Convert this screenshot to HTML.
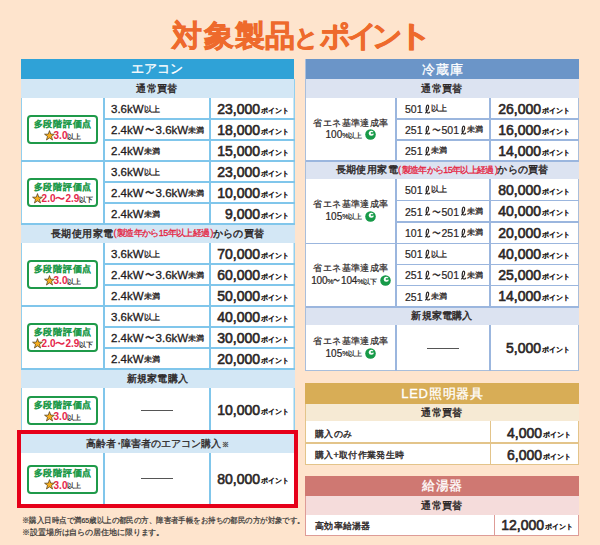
<!DOCTYPE html><html lang="ja"><head><meta charset="utf-8"><style>
html,body{margin:0;padding:0}
body{width:600px;height:545px;overflow:hidden;position:relative;background:#FEE4CD;font-family:"Liberation Sans",sans-serif}
.a{position:absolute}
.t{white-space:nowrap;line-height:1}
.c{display:flex;align-items:center;justify-content:center;white-space:nowrap;line-height:1}
.num{display:flex;align-items:center;justify-content:flex-end;font-size:14px;color:#2B2626;-webkit-text-stroke:0.6px #2B2626;white-space:nowrap;line-height:1}
.pt{font-size:6.6px;margin-top:5px;margin-left:1px;font-weight:normal;-webkit-text-stroke:0.5px #2B2626}
.sm{font-size:7px;color:#222;-webkit-text-stroke:0.2px #222}
.sm2{font-size:8px;-webkit-text-stroke:0.3px currentColor}
.rd{color:#E5264A;font-weight:bold}
.rd2{color:#E5243F;font-size:9px;letter-spacing:-0.65px;-webkit-text-stroke:0.3px #E5243F}
.pr{letter-spacing:0.6px}
.tl{display:inline-block;transform:scaleX(0.8)}
.ell{display:inline-block;margin-left:1px;position:relative;top:-0.5px}
.star{display:block;margin-right:-1px;position:relative;top:-1px;left:0.5px}
.gb{border:2px solid #1F9A4A;border-radius:4px;background:#fff}
.eco{display:inline-block;margin-left:3px;position:relative;top:-0.5px}
</style></head><body>
<div class="a t" style="left:172px;top:21px;font-size:30px;line-height:30px;font-weight:bold;color:#EE6A2C;-webkit-text-stroke:0.7px #EE6A2C">対</div>
<div class="a t" style="left:203.5px;top:21px;font-size:30px;line-height:30px;font-weight:bold;color:#EE6A2C;-webkit-text-stroke:0.7px #EE6A2C">象</div>
<div class="a t" style="left:235px;top:21px;font-size:30px;line-height:30px;font-weight:bold;color:#EE6A2C;-webkit-text-stroke:0.7px #EE6A2C">製</div>
<div class="a t" style="left:265px;top:21px;font-size:30px;line-height:30px;font-weight:bold;color:#EE6A2C;-webkit-text-stroke:0.7px #EE6A2C">品</div>
<div class="a t" style="left:294px;top:26px;font-size:24px;line-height:24px;font-weight:bold;color:#EE6A2C;-webkit-text-stroke:0.8px #EE6A2C">と</div>
<div class="a t" style="left:320px;top:21px;font-size:30px;line-height:30px;font-weight:bold;color:#EE6A2C;-webkit-text-stroke:0.7px #EE6A2C">ポ</div>
<div class="a t" style="left:347px;top:21px;font-size:30px;line-height:30px;font-weight:bold;color:#EE6A2C;-webkit-text-stroke:0.7px #EE6A2C">イ</div>
<div class="a t" style="left:372px;top:21px;font-size:30px;line-height:30px;font-weight:bold;color:#EE6A2C;-webkit-text-stroke:0.7px #EE6A2C">ン</div>
<div class="a t" style="left:397px;top:21px;font-size:30px;line-height:30px;font-weight:bold;color:#EE6A2C;-webkit-text-stroke:0.7px #EE6A2C;transform-origin:0 0;transform:scaleX(1.18)">ト</div>
<div class="a" style="left:21px;top:79px;width:274px;height:351px;background:#fff;box-shadow:inset 1px 0 0 #92CFEE, inset -1.5px 0 0 #92CFEE"></div>
<div class="a" style="left:21px;top:59px;width:273px;height:20px;background:#2FA2D7;"></div>
<div class="a c" style="left:20px;top:58px;width:274px;height:20px;font-size:13px;color:#fff;-webkit-text-stroke:0.3px #fff">エアコン</div>
<div class="a" style="left:21px;top:79px;width:273px;height:19px;background:#D3E7F5;"></div>
<div class="a c" style="left:20.5px;top:79px;width:273px;height:19px;font-size:10px;letter-spacing:0.4px;color:#2B2626;-webkit-text-stroke:0.4px #2B2626">通常買替</div>
<div class="a" style="left:21px;top:224px;width:274px;height:19px;background:#D3E7F5;"></div>
<div class="a c" style="left:20.5px;top:224px;width:274px;height:19px;font-size:10px;color:#2B2626;-webkit-text-stroke:0.4px #2B2626"><span style="letter-spacing:0.4px">長期使用家電</span><span class="rd2"><span class="pr">(</span>製造年から15年以上経<span class="pr">過</span>)</span><span style="letter-spacing:0.2px">からの買替</span></div>
<div class="a" style="left:21px;top:369px;width:274px;height:19px;background:#D3E7F5;"></div>
<div class="a c" style="left:20.5px;top:369px;width:274px;height:19px;font-size:10px;letter-spacing:0.4px;color:#2B2626;-webkit-text-stroke:0.4px #2B2626;letter-spacing:0.2px">新規家電購入</div>
<div class="a" style="left:103.0px;top:98px;width:2px;height:63px;background:#80C6EB;"></div>
<div class="a" style="left:209.25px;top:98px;width:1.5px;height:63px;background:#80C6EB;"></div>
<div class="a" style="left:104px;top:118.0px;width:191px;height:2px;background:#80C6EB;"></div>
<div class="a" style="left:104px;top:139.0px;width:191px;height:2px;background:#80C6EB;"></div>
<div class="a" style="left:21px;top:160.0px;width:274px;height:2px;background:#80C6EB;"></div>
<div class="a gb" style="left:27.0px;top:115.0px;width:67px;height:25px"></div>
<div class="a c" style="left:27.35px;top:119.0px;width:71px;height:10px;font-size:9px;letter-spacing:0.7px;color:#1F9A4A;-webkit-text-stroke:0.6px #1F9A4A">多段階評価点</div>
<div class="a c" style="left:27.0px;top:130.5px;width:71px;height:11px;font-size:10px"><svg class="star" width="11" height="11" viewBox="0 0 11 11"><polygon points="5.50,0.60 6.73,4.10 10.45,4.19 7.50,6.45 8.56,10.01 5.50,7.90 2.44,10.01 3.50,6.45 0.55,4.19 4.27,4.10" fill="#F7AE1E" stroke="#4B3B1E" stroke-width="0.7" stroke-linejoin="round"/></svg><span class="rd">3.0</span><span class="sm">以上</span></div>
<div class="a t" style="left:111px;top:99px;height:21px;display:flex;align-items:center;font-size:11.5px;color:#1E1A1A;-webkit-text-stroke:0.3px #1E1A1A">3.6kW<span class="sm2">以上</span></div>
<div class="a num" style="left:210px;top:98px;width:79px;height:21px">23,000<span class="pt">ポイント</span></div>
<div class="a t" style="left:111px;top:120px;height:21px;display:flex;align-items:center;font-size:11.5px;color:#1E1A1A;-webkit-text-stroke:0.3px #1E1A1A">2.4kW<span class="tl">〜</span>3.6kW<span class="sm2">未満</span></div>
<div class="a num" style="left:210px;top:119px;width:79px;height:21px">18,000<span class="pt">ポイント</span></div>
<div class="a t" style="left:111px;top:141px;height:21px;display:flex;align-items:center;font-size:11.5px;color:#1E1A1A;-webkit-text-stroke:0.3px #1E1A1A">2.4kW<span class="sm2">未満</span></div>
<div class="a num" style="left:210px;top:140px;width:79px;height:21px">15,000<span class="pt">ポイント</span></div>
<div class="a" style="left:103.0px;top:161px;width:2px;height:63px;background:#80C6EB;"></div>
<div class="a" style="left:209.25px;top:161px;width:1.5px;height:63px;background:#80C6EB;"></div>
<div class="a" style="left:104px;top:181.0px;width:191px;height:2px;background:#80C6EB;"></div>
<div class="a" style="left:104px;top:202.0px;width:191px;height:2px;background:#80C6EB;"></div>
<div class="a" style="left:21px;top:223.0px;width:274px;height:2px;background:#80C6EB;"></div>
<div class="a gb" style="left:27.0px;top:178.0px;width:67px;height:25px"></div>
<div class="a c" style="left:27.35px;top:182.0px;width:71px;height:10px;font-size:9px;letter-spacing:0.7px;color:#1F9A4A;-webkit-text-stroke:0.6px #1F9A4A">多段階評価点</div>
<div class="a c" style="left:27.0px;top:193.5px;width:71px;height:11px;font-size:10px"><svg class="star" width="11" height="11" viewBox="0 0 11 11"><polygon points="5.50,0.60 6.73,4.10 10.45,4.19 7.50,6.45 8.56,10.01 5.50,7.90 2.44,10.01 3.50,6.45 0.55,4.19 4.27,4.10" fill="#F7AE1E" stroke="#4B3B1E" stroke-width="0.7" stroke-linejoin="round"/></svg><span class="rd">2.0〜2.9</span><span class="sm">以下</span></div>
<div class="a t" style="left:111px;top:162px;height:21px;display:flex;align-items:center;font-size:11.5px;color:#1E1A1A;-webkit-text-stroke:0.3px #1E1A1A">3.6kW<span class="sm2">以上</span></div>
<div class="a num" style="left:210px;top:161px;width:79px;height:21px">23,000<span class="pt">ポイント</span></div>
<div class="a t" style="left:111px;top:183px;height:21px;display:flex;align-items:center;font-size:11.5px;color:#1E1A1A;-webkit-text-stroke:0.3px #1E1A1A">2.4kW<span class="tl">〜</span>3.6kW<span class="sm2">未満</span></div>
<div class="a num" style="left:210px;top:182px;width:79px;height:21px">10,000<span class="pt">ポイント</span></div>
<div class="a t" style="left:111px;top:204px;height:21px;display:flex;align-items:center;font-size:11.5px;color:#1E1A1A;-webkit-text-stroke:0.3px #1E1A1A">2.4kW<span class="sm2">未満</span></div>
<div class="a num" style="left:210px;top:203px;width:79px;height:21px">9,000<span class="pt">ポイント</span></div>
<div class="a" style="left:103.0px;top:243px;width:2px;height:63px;background:#80C6EB;"></div>
<div class="a" style="left:209.25px;top:243px;width:1.5px;height:63px;background:#80C6EB;"></div>
<div class="a" style="left:104px;top:263.0px;width:191px;height:2px;background:#80C6EB;"></div>
<div class="a" style="left:104px;top:284.0px;width:191px;height:2px;background:#80C6EB;"></div>
<div class="a" style="left:21px;top:305.0px;width:274px;height:2px;background:#80C6EB;"></div>
<div class="a gb" style="left:27.0px;top:260.0px;width:67px;height:25px"></div>
<div class="a c" style="left:27.35px;top:264.0px;width:71px;height:10px;font-size:9px;letter-spacing:0.7px;color:#1F9A4A;-webkit-text-stroke:0.6px #1F9A4A">多段階評価点</div>
<div class="a c" style="left:27.0px;top:275.5px;width:71px;height:11px;font-size:10px"><svg class="star" width="11" height="11" viewBox="0 0 11 11"><polygon points="5.50,0.60 6.73,4.10 10.45,4.19 7.50,6.45 8.56,10.01 5.50,7.90 2.44,10.01 3.50,6.45 0.55,4.19 4.27,4.10" fill="#F7AE1E" stroke="#4B3B1E" stroke-width="0.7" stroke-linejoin="round"/></svg><span class="rd">3.0</span><span class="sm">以上</span></div>
<div class="a t" style="left:111px;top:244px;height:21px;display:flex;align-items:center;font-size:11.5px;color:#1E1A1A;-webkit-text-stroke:0.3px #1E1A1A">3.6kW<span class="sm2">以上</span></div>
<div class="a num" style="left:210px;top:243px;width:79px;height:21px">70,000<span class="pt">ポイント</span></div>
<div class="a t" style="left:111px;top:265px;height:21px;display:flex;align-items:center;font-size:11.5px;color:#1E1A1A;-webkit-text-stroke:0.3px #1E1A1A">2.4kW<span class="tl">〜</span>3.6kW<span class="sm2">未満</span></div>
<div class="a num" style="left:210px;top:264px;width:79px;height:21px">60,000<span class="pt">ポイント</span></div>
<div class="a t" style="left:111px;top:286px;height:21px;display:flex;align-items:center;font-size:11.5px;color:#1E1A1A;-webkit-text-stroke:0.3px #1E1A1A">2.4kW<span class="sm2">未満</span></div>
<div class="a num" style="left:210px;top:285px;width:79px;height:21px">50,000<span class="pt">ポイント</span></div>
<div class="a" style="left:103.0px;top:306px;width:2px;height:63px;background:#80C6EB;"></div>
<div class="a" style="left:209.25px;top:306px;width:1.5px;height:63px;background:#80C6EB;"></div>
<div class="a" style="left:104px;top:326.0px;width:191px;height:2px;background:#80C6EB;"></div>
<div class="a" style="left:104px;top:347.0px;width:191px;height:2px;background:#80C6EB;"></div>
<div class="a" style="left:21px;top:368.0px;width:274px;height:2px;background:#80C6EB;"></div>
<div class="a gb" style="left:27.0px;top:323.0px;width:67px;height:25px"></div>
<div class="a c" style="left:27.35px;top:327.0px;width:71px;height:10px;font-size:9px;letter-spacing:0.7px;color:#1F9A4A;-webkit-text-stroke:0.6px #1F9A4A">多段階評価点</div>
<div class="a c" style="left:27.0px;top:338.5px;width:71px;height:11px;font-size:10px"><svg class="star" width="11" height="11" viewBox="0 0 11 11"><polygon points="5.50,0.60 6.73,4.10 10.45,4.19 7.50,6.45 8.56,10.01 5.50,7.90 2.44,10.01 3.50,6.45 0.55,4.19 4.27,4.10" fill="#F7AE1E" stroke="#4B3B1E" stroke-width="0.7" stroke-linejoin="round"/></svg><span class="rd">2.0〜2.9</span><span class="sm">以下</span></div>
<div class="a t" style="left:111px;top:307px;height:21px;display:flex;align-items:center;font-size:11.5px;color:#1E1A1A;-webkit-text-stroke:0.3px #1E1A1A">3.6kW<span class="sm2">以上</span></div>
<div class="a num" style="left:210px;top:306px;width:79px;height:21px">40,000<span class="pt">ポイント</span></div>
<div class="a t" style="left:111px;top:328px;height:21px;display:flex;align-items:center;font-size:11.5px;color:#1E1A1A;-webkit-text-stroke:0.3px #1E1A1A">2.4kW<span class="tl">〜</span>3.6kW<span class="sm2">未満</span></div>
<div class="a num" style="left:210px;top:327px;width:79px;height:21px">30,000<span class="pt">ポイント</span></div>
<div class="a t" style="left:111px;top:349px;height:21px;display:flex;align-items:center;font-size:11.5px;color:#1E1A1A;-webkit-text-stroke:0.3px #1E1A1A">2.4kW<span class="sm2">未満</span></div>
<div class="a num" style="left:210px;top:348px;width:79px;height:21px">20,000<span class="pt">ポイント</span></div>
<div class="a" style="left:103.0px;top:388px;width:2px;height:42px;background:#80C6EB;"></div>
<div class="a" style="left:209.25px;top:388px;width:1.5px;height:42px;background:#80C6EB;"></div>
<div class="a gb" style="left:27.0px;top:396.0px;width:67px;height:25px"></div>
<div class="a c" style="left:27.35px;top:400.0px;width:71px;height:10px;font-size:9px;letter-spacing:0.7px;color:#1F9A4A;-webkit-text-stroke:0.6px #1F9A4A">多段階評価点</div>
<div class="a c" style="left:27.0px;top:411.5px;width:71px;height:11px;font-size:10px"><svg class="star" width="11" height="11" viewBox="0 0 11 11"><polygon points="5.50,0.60 6.73,4.10 10.45,4.19 7.50,6.45 8.56,10.01 5.50,7.90 2.44,10.01 3.50,6.45 0.55,4.19 4.27,4.10" fill="#F7AE1E" stroke="#4B3B1E" stroke-width="0.7" stroke-linejoin="round"/></svg><span class="rd">3.0</span><span class="sm">以上</span></div>
<div class="a" style="left:141px;top:410px;width:32px;height:1.2px;background:#555;"></div>
<div class="a num" style="left:210px;top:388px;width:79px;height:44px">10,000<span class="pt">ポイント</span></div>
<div class="a" style="left:17px;top:430px;width:281px;height:78px;background:#fff;box-sizing:border-box;border:4px solid #E60019"></div>
<div class="a" style="left:21px;top:434px;width:273px;height:18.5px;background:#D3E7F5;"></div>
<div class="a c" style="left:20.5px;top:435px;width:273px;height:18.5px;font-size:10px;color:#2B2626;-webkit-text-stroke:0.3px #2B2626">高齢者<span style="letter-spacing:-3.5px;margin-left:-1.5px">・</span>障害者のエアコン購入<span style="font-size:7px;vertical-align:3px;color:#999;margin-left:1px">※</span></div>
<div class="a" style="left:103.0px;top:452.5px;width:2px;height:51.5px;background:#80C6EB;"></div>
<div class="a" style="left:209.25px;top:452.5px;width:1.5px;height:51.5px;background:#80C6EB;"></div>
<div class="a gb" style="left:27.0px;top:464.5px;width:67px;height:25px"></div>
<div class="a c" style="left:27.35px;top:468.5px;width:71px;height:10px;font-size:9px;letter-spacing:0.7px;color:#1F9A4A;-webkit-text-stroke:0.6px #1F9A4A">多段階評価点</div>
<div class="a c" style="left:27.0px;top:480.0px;width:71px;height:11px;font-size:10px"><svg class="star" width="11" height="11" viewBox="0 0 11 11"><polygon points="5.50,0.60 6.73,4.10 10.45,4.19 7.50,6.45 8.56,10.01 5.50,7.90 2.44,10.01 3.50,6.45 0.55,4.19 4.27,4.10" fill="#F7AE1E" stroke="#4B3B1E" stroke-width="0.7" stroke-linejoin="round"/></svg><span class="rd">3.0</span><span class="sm">以上</span></div>
<div class="a" style="left:141px;top:478.3px;width:32px;height:1.2px;background:#555;"></div>
<div class="a num" style="left:210px;top:452.5px;width:79px;height:52px">80,000<span class="pt">ポイント</span></div>
<div class="a t" style="left:22px;top:516px;font-size:7.5px;line-height:10px;color:#333;-webkit-text-stroke:0.2px #333;white-space:nowrap;transform-origin:0 0;transform:scaleX(0.929)">※購入日時点で満65歳以上の都民の方、障害者手帳をお持ちの都民の方が対象です。</div>
<div class="a t" style="left:22px;top:527.5px;font-size:8px;letter-spacing:-0.1px;line-height:10px;color:#333;-webkit-text-stroke:0.2px #333;white-space:nowrap">※設置場所は自らの居住地に限ります。</div>
<div class="a" style="left:305px;top:59px;width:274px;height:312px;background:#fff;box-shadow:inset 0 0 0 1px #A9BEDB"></div>
<div class="a" style="left:306px;top:59px;width:273px;height:20px;background:#6B95C8;"></div>
<div class="a c" style="left:306px;top:59px;width:273px;height:20px;font-size:13px;color:#fff;-webkit-text-stroke:0.3px #fff;letter-spacing:1px">冷蔵庫</div>
<div class="a" style="left:306px;top:79px;width:273px;height:19px;background:#DCE3F1;"></div>
<div class="a c" style="left:305.5px;top:79px;width:273px;height:19px;font-size:10px;letter-spacing:0.4px;color:#2B2626;-webkit-text-stroke:0.4px #2B2626">通常買替</div>
<div class="a" style="left:306px;top:161px;width:273px;height:18px;background:#DCE3F1;"></div>
<div class="a c" style="left:305.5px;top:161px;width:273px;height:18px;font-size:10px;color:#2B2626;-webkit-text-stroke:0.4px #2B2626"><span style="letter-spacing:0.4px">長期使用家電</span><span class="rd2"><span class="pr">(</span>製造年から15年以上経<span class="pr">過</span>)</span><span style="letter-spacing:0.2px">からの買替</span></div>
<div class="a" style="left:306px;top:307px;width:273px;height:18px;background:#DCE3F1;"></div>
<div class="a c" style="left:305.5px;top:307px;width:273px;height:18px;font-size:10px;letter-spacing:0.4px;color:#2B2626;-webkit-text-stroke:0.4px #2B2626;letter-spacing:0.2px">新規家電購入</div>
<div class="a" style="left:395.25px;top:98px;width:1.5px;height:63px;background:#9BB6DE;"></div>
<div class="a" style="left:489.25px;top:98px;width:1.5px;height:63px;background:#9BB6DE;"></div>
<div class="a" style="left:396px;top:118.25px;width:183px;height:1.5px;background:#9BB6DE;"></div>
<div class="a" style="left:396px;top:139.25px;width:183px;height:1.5px;background:#9BB6DE;"></div>
<div class="a" style="left:306px;top:160.25px;width:273px;height:1.5px;background:#9BB6DE;"></div>
<div class="a c" style="left:306px;top:117.5px;width:90px;height:11px;font-size:9px;letter-spacing:0.45px;color:#2B2626;-webkit-text-stroke:0.2px #2B2626">省エネ基準達成率</div>
<div class="a c" style="left:306px;top:129.0px;width:90px;height:12px;font-size:10px;color:#2B2626;-webkit-text-stroke:0.2px #2B2626">100<span class="sm">%以上</span><svg class="eco" width="11" height="11" viewBox="0 0 11 11"><circle cx="5.5" cy="5.5" r="5.3" fill="#179A48"/><circle cx="6.3" cy="4.2" r="2.5" fill="#fff"/><circle cx="6.8" cy="4.1" r="1.15" fill="#2DA85C"/><path d="M7.4,3.4 L9.4,2.6 L9.6,4.6 L7.6,4.7 Z" fill="#179A48"/></svg></div>
<div class="a t" style="left:405px;top:98.5px;height:21px;display:flex;align-items:center;font-size:10.5px;color:#2B2626;-webkit-text-stroke:0.2px #2B2626">501<svg class="ell" width="7" height="10" viewBox="0 0 7 10"><path d="M1.6,8.8 C3,7.4 4.9,4.2 4.6,2.1 C4.4,0.7 3,0.7 2.6,2.2 C2.1,4.2 2.1,7.4 3.1,8.6 C3.7,9.3 4.6,9.1 5.6,8.2" fill="none" stroke="#2B2626" stroke-width="1.15" stroke-linecap="round"/></svg><span class="sm2">以上</span></div>
<div class="a num" style="left:490px;top:98px;width:80px;height:21px">26,000<span class="pt">ポイント</span></div>
<div class="a t" style="left:405px;top:119.5px;height:21px;display:flex;align-items:center;font-size:10.5px;color:#2B2626;-webkit-text-stroke:0.2px #2B2626">251<svg class="ell" width="7" height="10" viewBox="0 0 7 10"><path d="M1.6,8.8 C3,7.4 4.9,4.2 4.6,2.1 C4.4,0.7 3,0.7 2.6,2.2 C2.1,4.2 2.1,7.4 3.1,8.6 C3.7,9.3 4.6,9.1 5.6,8.2" fill="none" stroke="#2B2626" stroke-width="1.15" stroke-linecap="round"/></svg><span class="tl">〜</span>501<svg class="ell" width="7" height="10" viewBox="0 0 7 10"><path d="M1.6,8.8 C3,7.4 4.9,4.2 4.6,2.1 C4.4,0.7 3,0.7 2.6,2.2 C2.1,4.2 2.1,7.4 3.1,8.6 C3.7,9.3 4.6,9.1 5.6,8.2" fill="none" stroke="#2B2626" stroke-width="1.15" stroke-linecap="round"/></svg><span class="sm2">未満</span></div>
<div class="a num" style="left:490px;top:119px;width:80px;height:21px">16,000<span class="pt">ポイント</span></div>
<div class="a t" style="left:405px;top:140.5px;height:21px;display:flex;align-items:center;font-size:10.5px;color:#2B2626;-webkit-text-stroke:0.2px #2B2626">251<svg class="ell" width="7" height="10" viewBox="0 0 7 10"><path d="M1.6,8.8 C3,7.4 4.9,4.2 4.6,2.1 C4.4,0.7 3,0.7 2.6,2.2 C2.1,4.2 2.1,7.4 3.1,8.6 C3.7,9.3 4.6,9.1 5.6,8.2" fill="none" stroke="#2B2626" stroke-width="1.15" stroke-linecap="round"/></svg><span class="sm2">未満</span></div>
<div class="a num" style="left:490px;top:140px;width:80px;height:21px">14,000<span class="pt">ポイント</span></div>
<div class="a" style="left:395.25px;top:179px;width:1.5px;height:64.5px;background:#9BB6DE;"></div>
<div class="a" style="left:489.25px;top:179px;width:1.5px;height:64.5px;background:#9BB6DE;"></div>
<div class="a" style="left:396px;top:199.75px;width:183px;height:1.5px;background:#9BB6DE;"></div>
<div class="a" style="left:396px;top:221.25px;width:183px;height:1.5px;background:#9BB6DE;"></div>
<div class="a" style="left:306px;top:242.75px;width:273px;height:1.5px;background:#9BB6DE;"></div>
<div class="a c" style="left:306px;top:199.25px;width:90px;height:11px;font-size:9px;letter-spacing:0.45px;color:#2B2626;-webkit-text-stroke:0.2px #2B2626">省エネ基準達成率</div>
<div class="a c" style="left:306px;top:210.75px;width:90px;height:12px;font-size:10px;color:#2B2626;-webkit-text-stroke:0.2px #2B2626">105<span class="sm">%以上</span><svg class="eco" width="11" height="11" viewBox="0 0 11 11"><circle cx="5.5" cy="5.5" r="5.3" fill="#179A48"/><circle cx="6.3" cy="4.2" r="2.5" fill="#fff"/><circle cx="6.8" cy="4.1" r="1.15" fill="#2DA85C"/><path d="M7.4,3.4 L9.4,2.6 L9.6,4.6 L7.6,4.7 Z" fill="#179A48"/></svg></div>
<div class="a t" style="left:405px;top:179.5px;height:21.5px;display:flex;align-items:center;font-size:10.5px;color:#2B2626;-webkit-text-stroke:0.2px #2B2626">501<svg class="ell" width="7" height="10" viewBox="0 0 7 10"><path d="M1.6,8.8 C3,7.4 4.9,4.2 4.6,2.1 C4.4,0.7 3,0.7 2.6,2.2 C2.1,4.2 2.1,7.4 3.1,8.6 C3.7,9.3 4.6,9.1 5.6,8.2" fill="none" stroke="#2B2626" stroke-width="1.15" stroke-linecap="round"/></svg><span class="sm2">以上</span></div>
<div class="a num" style="left:490px;top:179px;width:80px;height:21.5px">80,000<span class="pt">ポイント</span></div>
<div class="a t" style="left:405px;top:201.0px;height:21.5px;display:flex;align-items:center;font-size:10.5px;color:#2B2626;-webkit-text-stroke:0.2px #2B2626">251<svg class="ell" width="7" height="10" viewBox="0 0 7 10"><path d="M1.6,8.8 C3,7.4 4.9,4.2 4.6,2.1 C4.4,0.7 3,0.7 2.6,2.2 C2.1,4.2 2.1,7.4 3.1,8.6 C3.7,9.3 4.6,9.1 5.6,8.2" fill="none" stroke="#2B2626" stroke-width="1.15" stroke-linecap="round"/></svg><span class="tl">〜</span>501<svg class="ell" width="7" height="10" viewBox="0 0 7 10"><path d="M1.6,8.8 C3,7.4 4.9,4.2 4.6,2.1 C4.4,0.7 3,0.7 2.6,2.2 C2.1,4.2 2.1,7.4 3.1,8.6 C3.7,9.3 4.6,9.1 5.6,8.2" fill="none" stroke="#2B2626" stroke-width="1.15" stroke-linecap="round"/></svg><span class="sm2">未満</span></div>
<div class="a num" style="left:490px;top:200.5px;width:80px;height:21.5px">40,000<span class="pt">ポイント</span></div>
<div class="a t" style="left:405px;top:222.5px;height:21.5px;display:flex;align-items:center;font-size:10.5px;color:#2B2626;-webkit-text-stroke:0.2px #2B2626">101<svg class="ell" width="7" height="10" viewBox="0 0 7 10"><path d="M1.6,8.8 C3,7.4 4.9,4.2 4.6,2.1 C4.4,0.7 3,0.7 2.6,2.2 C2.1,4.2 2.1,7.4 3.1,8.6 C3.7,9.3 4.6,9.1 5.6,8.2" fill="none" stroke="#2B2626" stroke-width="1.15" stroke-linecap="round"/></svg><span class="tl">〜</span>251<svg class="ell" width="7" height="10" viewBox="0 0 7 10"><path d="M1.6,8.8 C3,7.4 4.9,4.2 4.6,2.1 C4.4,0.7 3,0.7 2.6,2.2 C2.1,4.2 2.1,7.4 3.1,8.6 C3.7,9.3 4.6,9.1 5.6,8.2" fill="none" stroke="#2B2626" stroke-width="1.15" stroke-linecap="round"/></svg><span class="sm2">未満</span></div>
<div class="a num" style="left:490px;top:222px;width:80px;height:21.5px">20,000<span class="pt">ポイント</span></div>
<div class="a" style="left:395.25px;top:243.5px;width:1.5px;height:63.5px;background:#9BB6DE;"></div>
<div class="a" style="left:489.25px;top:243.5px;width:1.5px;height:63.5px;background:#9BB6DE;"></div>
<div class="a" style="left:396px;top:263.75px;width:183px;height:1.5px;background:#9BB6DE;"></div>
<div class="a" style="left:396px;top:284.75px;width:183px;height:1.5px;background:#9BB6DE;"></div>
<div class="a" style="left:306px;top:306.25px;width:273px;height:1.5px;background:#9BB6DE;"></div>
<div class="a c" style="left:306px;top:263.25px;width:90px;height:11px;font-size:9px;letter-spacing:0.45px;color:#2B2626;-webkit-text-stroke:0.2px #2B2626">省エネ基準達成率</div>
<div class="a c" style="left:306px;top:274.75px;width:90px;height:12px;font-size:10px;color:#2B2626;-webkit-text-stroke:0.2px #2B2626"><span style="letter-spacing:-0.2px">100<span class="sm">%</span><span class="tl" style="transform:scaleX(0.7);margin:0 -1px">〜</span>104<span class="sm">%以下</span></span><svg class="eco" width="11" height="11" viewBox="0 0 11 11"><circle cx="5.5" cy="5.5" r="5.3" fill="#179A48"/><circle cx="6.3" cy="4.2" r="2.5" fill="#fff"/><circle cx="6.8" cy="4.1" r="1.15" fill="#2DA85C"/><path d="M7.4,3.4 L9.4,2.6 L9.6,4.6 L7.6,4.7 Z" fill="#179A48"/></svg></div>
<div class="a t" style="left:405px;top:244.0px;height:21.0px;display:flex;align-items:center;font-size:10.5px;color:#2B2626;-webkit-text-stroke:0.2px #2B2626">501<svg class="ell" width="7" height="10" viewBox="0 0 7 10"><path d="M1.6,8.8 C3,7.4 4.9,4.2 4.6,2.1 C4.4,0.7 3,0.7 2.6,2.2 C2.1,4.2 2.1,7.4 3.1,8.6 C3.7,9.3 4.6,9.1 5.6,8.2" fill="none" stroke="#2B2626" stroke-width="1.15" stroke-linecap="round"/></svg><span class="sm2">以上</span></div>
<div class="a num" style="left:490px;top:243.5px;width:80px;height:21.0px">40,000<span class="pt">ポイント</span></div>
<div class="a t" style="left:405px;top:265.0px;height:21.0px;display:flex;align-items:center;font-size:10.5px;color:#2B2626;-webkit-text-stroke:0.2px #2B2626">251<svg class="ell" width="7" height="10" viewBox="0 0 7 10"><path d="M1.6,8.8 C3,7.4 4.9,4.2 4.6,2.1 C4.4,0.7 3,0.7 2.6,2.2 C2.1,4.2 2.1,7.4 3.1,8.6 C3.7,9.3 4.6,9.1 5.6,8.2" fill="none" stroke="#2B2626" stroke-width="1.15" stroke-linecap="round"/></svg><span class="tl">〜</span>501<svg class="ell" width="7" height="10" viewBox="0 0 7 10"><path d="M1.6,8.8 C3,7.4 4.9,4.2 4.6,2.1 C4.4,0.7 3,0.7 2.6,2.2 C2.1,4.2 2.1,7.4 3.1,8.6 C3.7,9.3 4.6,9.1 5.6,8.2" fill="none" stroke="#2B2626" stroke-width="1.15" stroke-linecap="round"/></svg><span class="sm2">未満</span></div>
<div class="a num" style="left:490px;top:264.5px;width:80px;height:21.0px">25,000<span class="pt">ポイント</span></div>
<div class="a t" style="left:405px;top:286.0px;height:21.5px;display:flex;align-items:center;font-size:10.5px;color:#2B2626;-webkit-text-stroke:0.2px #2B2626">251<svg class="ell" width="7" height="10" viewBox="0 0 7 10"><path d="M1.6,8.8 C3,7.4 4.9,4.2 4.6,2.1 C4.4,0.7 3,0.7 2.6,2.2 C2.1,4.2 2.1,7.4 3.1,8.6 C3.7,9.3 4.6,9.1 5.6,8.2" fill="none" stroke="#2B2626" stroke-width="1.15" stroke-linecap="round"/></svg><span class="sm2">未満</span></div>
<div class="a num" style="left:490px;top:285.5px;width:80px;height:21.5px">14,000<span class="pt">ポイント</span></div>
<div class="a" style="left:395.25px;top:325px;width:1.5px;height:46px;background:#9BB6DE;"></div>
<div class="a" style="left:489.25px;top:325px;width:1.5px;height:46px;background:#9BB6DE;"></div>
<div class="a c" style="left:306px;top:336px;width:90px;height:11px;font-size:9px;letter-spacing:0.45px;color:#2B2626;-webkit-text-stroke:0.2px #2B2626">省エネ基準達成率</div>
<div class="a c" style="left:306px;top:347.5px;width:90px;height:12px;font-size:10px;color:#2B2626;-webkit-text-stroke:0.2px #2B2626">105<span class="sm">%以上</span><svg class="eco" width="11" height="11" viewBox="0 0 11 11"><circle cx="5.5" cy="5.5" r="5.3" fill="#179A48"/><circle cx="6.3" cy="4.2" r="2.5" fill="#fff"/><circle cx="6.8" cy="4.1" r="1.15" fill="#2DA85C"/><path d="M7.4,3.4 L9.4,2.6 L9.6,4.6 L7.6,4.7 Z" fill="#179A48"/></svg></div>
<div class="a" style="left:427px;top:348px;width:32px;height:1.2px;background:#555;"></div>
<div class="a num" style="left:490px;top:325px;width:80px;height:46px">5,000<span class="pt">ポイント</span></div>
<div class="a" style="left:305px;top:383px;width:274px;height:82px;background:#fff;box-shadow:inset 0 0 0 1px #E3C48A"></div>
<div class="a" style="left:305px;top:383px;width:274px;height:21px;background:#D8AD56;"></div>
<div class="a c" style="left:306px;top:383px;width:273px;height:21px;font-size:13px;color:#fff;-webkit-text-stroke:0.3px #fff;letter-spacing:0.75px">LED照明器具</div>
<div class="a" style="left:306px;top:404px;width:273px;height:17px;background:#F6EAD4;"></div>
<div class="a c" style="left:305.5px;top:404.5px;width:273px;height:17px;font-size:10px;letter-spacing:0.4px;color:#2B2626;-webkit-text-stroke:0.4px #2B2626">通常買替</div>
<div class="a" style="left:489.75px;top:421px;width:1.5px;height:44px;background:#E3C48A;"></div>
<div class="a" style="left:306px;top:442.25px;width:273px;height:1.5px;background:#E3C48A;"></div>
<div class="a t" style="left:315px;top:423px;height:22px;display:flex;align-items:center;font-size:9px;letter-spacing:0.3px;color:#2B2626;-webkit-text-stroke:0.35px #2B2626">購入のみ</div>
<div class="a t" style="left:315px;top:444.5px;height:21px;display:flex;align-items:center;font-size:9px;letter-spacing:0.3px;color:#2B2626;-webkit-text-stroke:0.35px #2B2626">購入+取付作業発生時</div>
<div class="a num" style="left:490px;top:422px;width:81px;height:22px">4,000<span class="pt">ポイント</span></div>
<div class="a num" style="left:490px;top:444px;width:81px;height:21px">6,000<span class="pt">ポイント</span></div>
<div class="a" style="left:305px;top:476px;width:274px;height:60px;background:#fff;box-shadow:inset 0 0 0 1px #DE9C97"></div>
<div class="a" style="left:305px;top:476px;width:274px;height:20px;background:#CF7872;"></div>
<div class="a c" style="left:306px;top:475px;width:273px;height:20px;font-size:13px;color:#fff;-webkit-text-stroke:0.3px #fff;letter-spacing:0.8px">給湯器</div>
<div class="a" style="left:306px;top:496px;width:273px;height:18.5px;background:#F5DCDB;"></div>
<div class="a c" style="left:305.5px;top:497px;width:273px;height:18.5px;font-size:10px;letter-spacing:0.4px;color:#2B2626;-webkit-text-stroke:0.4px #2B2626">通常買替</div>
<div class="a" style="left:493.75px;top:514.5px;width:1.5px;height:21.5px;background:#DE9C97;"></div>
<div class="a t" style="left:315px;top:516px;height:21.5px;display:flex;align-items:center;font-size:9px;letter-spacing:0.3px;color:#2B2626;-webkit-text-stroke:0.35px #2B2626">高効率給湯器</div>
<div class="a num" style="left:494px;top:514.5px;width:79px;height:21.5px">12,000<span class="pt">ポイント</span></div>
</body></html>
